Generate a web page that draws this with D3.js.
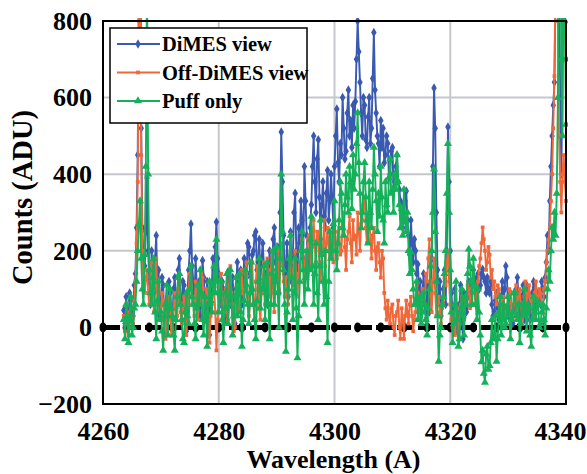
<!DOCTYPE html>
<html>
<head>
<meta charset="utf-8">
<script src="https://cdn.jsdelivr.net/npm/d3@7"></script>
<style>
  body { margin: 0; background: #fff; }
  svg { display: block; }
  text { font-family: "Liberation Serif", "Times New Roman", serif; font-weight: bold; }
</style>
</head>
<body>
<svg id="chart" width="587" height="474"></svg>
<script>
// wavelength grid of the spectra (A)
var wlStart = 4263.6, wlStep = 0.2;

// DiMES view counts, 20 samples (4 A) per row
var dimes = [
  45, 10, 80, 50, 15, 90, 70, 20, 30, 110, 140, 260, 450, 900, 1400, 520, 260, 180, 160, 250,
  390, 200, 120, 60, 200, 140, 90, 180, 240, 100, 150, 30, 60, 130, 110, 20, -20, 70, 40, 120,
  90, 30, 20, 100, 130, 50, 60, 150, 180, 70, 40, 120, 110, 20, -10, 90, 150, 200, 270, 160,
  120, 60, 180, 110, 60, 120, 30, 90, 175, 130, 80, 20, 120, 50, -20, 60, 110, 180, 150, 210,
  275, 180, 140, 80, 60, 120, 100, 40, 20, 90, 145, 70, 60, 110, 130, 30, 10, 100, 170, 120,
  90, 150, 60, 120, 180, 100, 130, 220, 210, 140, 100, 190, 200, 240, 250, 150, 170, 230, 120, 180,
  220, 160, 140, 90, 60, 150, 200, 120, 110, 230, 260, 170, 150, 210, 90, 300, 510, 380, 240, 140,
  150, 220, 80, 160, 250, 120, 180, 300, 350, 200, 120, 260, 220, 330, 280, 180, 420, 330, 240, 150,
  180, 260, 320, 420, 500, 380, 300, 440, 490, 340, 230, 320, 380, 290, 260, 350, 410, 280, 330, 400,
  340, 260, 420, 500, 570, 430, 380, 480, 450, 600, 520, 440, 460, 560, 620, 500, 540, 470, 580, 520,
  590, 700, 800, 720, 640, 560, 500, 600, 580, 490, 470, 550, 600, 480, 520, 650, 770, 620, 560, 500,
  480, 420, 540, 470, 520, 430, 450, 500, 480, 390, 400, 460, 470, 360, 380, 420, 450, 380, 360, 330,
  320, 260, 280, 330, 356, 280, 240, 190, 280, 220, 170, 230, 200, 140, 165, 100, 120, 60, 90, 140,
  60, 20, 110, 70, 40, 100, 180, 420, 625, 520, 300, 150, 80, 120, 30, 60, 100, 150, 60, 200,
  523, 380, 200, 90, 40, 0, 100, 60, -10, 30, 60, 110, 20, -30, 90, 50, 40, 80, 120, 90,
  60, 110, 150, 120, 90, 130, 140, 100, 110, 140, 152, 130, 120, 90, 130, 100, 90, 120, 60, 30,
  40, 70, 90, 50, 20, 60, 80, 120, 50, 100, 160, 130, 30, 60, 90, 40, 10, 50, 60, 100,
  130, 80, 30, 60, 80, 110, 20, 70, 110, 90, 60, 20, 40, 90, 120, 100, 50, 80, 90, 70,
  60, 120, 100, 80, 130, 170, 240, 200, 330, 420, 500, 580, 640, 900, 1300, 1100, 900, 600, 400, 700,
  1000, 850, 700
];

// Off-DiMES view counts
var offDimes = [
  30, -10, 60, 20, -20, 40, 50, 0, 10, 70, 120, 220, 380, 800, 1300, 450, 200, 110, 90, 130,
  150, 90, 60, 120, 170, 80, 40, 130, 180, 60, 100, 40, 20, 90, 70, 10, -30, 40, 20, 80,
  60, -20, 0, 50, 90, 20, 30, 100, 120, 40, 10, 60, 80, 10, -20, 50, 100, 140, 160, 60,
  80, 30, 120, 70, 20, 90, 60, 140, 130, 50, 40, 100, 90, 20, -40, 30, 60, 110, 100, 40,
  -60, 20, 80, 120, 140, 60, 30, 90, 100, 40, 20, 110, 160, 90, 60, -10, 0, 70, 110, 50,
  40, 100, 150, 90, 70, 140, 170, 80, 30, 60, 140, 170, 60, 20, 120, 160, 100, 50, 20, 90,
  120, 170, 60, 110, 180, 130, 80, 150, 200, 90, 40, 120, 150, 200, 100, 160, 220, 170, 120, 80,
  130, 90, 60, 140, 190, 150, 110, 170, 200, 130, 80, 140, 160, 210, 230, 170, 120, 200, 180, 230,
  240, 190, 150, 230, 280, 210, 170, 250, 240, 160, 120, 170, 200, 280, 160, 220, 260, 200, 180, 240,
  230, 170, 280, 220, 180, 250, 260, 190, 200, 270, 300, 210, 150, 230, 250, 290, 220, 170, 280, 230,
  240, 190, 300, 250, 200, 270, 280, 320, 340, 260, 220, 290, 300, 230, 180, 240, 260, 200, 150, 210,
  220, 170, 130, 200, 180, 90, 50, 20, 70, 30, 10, 50, 60, 0, -20, 30, 40, 70, 0, -30,
  50, 20, -30, 30, 70, 40, 10, 60, 80, 30, -10, 20, 40, 110, 90, 50, 20, 70, 100, 60,
  60, 140, 120, 180, 230, 100, 40, 120, 180, 90, 30, 60, 80, 40, 10, 50, 60, 130, 110, 170,
  200, 120, 60, 20, 0, 40, -20, 30, 50, -10, 10, 60, 80, 40, 20, 70, 60, 110, 100, 50,
  80, 120, 140, 90, 60, 100, 120, 160, 180, 220, 261, 230, 200, 150, 170, 210, 190, 130, 150, 100,
  120, 80, 60, 110, 100, 50, 30, 70, 80, 40, 10, 50, 60, 100, 90, 40, 20, 60, 70, 110,
  50, 80, 100, 60, 20, 50, 80, 120, 40, 90, 110, 80, 70, 40, 30, 90, 120, 80, 60, 100,
  90, 60, 40, 100, 120, 170, 200, 230, 260, 330, 400, 520, 656, 950, 1400, 800, 500, 380, 300, 400,
  450, 380, 330
];

// Puff only counts
var puff = [
  20, -30, 60, 30, -40, 20, 80, -20, 0, 50, 60, 120, 200, 270, 330, 180, 100, 60, 190, 420,
  900, 400, 150, 90, 60, 130, 180, 40, -30, 70, 120, 20, 40, -10, -60, 30, 60, 110, -20, 50,
  100, 50, 30, -20, -60, 20, 80, 130, 140, 60, 20, -30, -40, 40, 90, 30, 10, 100, 160, 80,
  60, 10, -30, 50, 110, 60, 150, 90, 20, -20, 80, 30, -50, 60, 120, 70, 40, 110, 160, 90,
  230, 120, 40, 90, 120, 20, -40, 50, 90, 140, 10, 60, 150, 80, -20, 30, 80, 130, 30, 100,
  140, 40, -50, 20, 70, 150, 110, 60, 10, 90, 170, 100, 60, 20, -30, 70, 120, 180, 50, 100,
  100, 160, 20, 90, 170, 60, -30, 60, 140, 200, 60, 120, 210, 90, 0, 180, 400, 250, 150, 60,
  -63, 40, 100, 180, 240, 130, 20, 90, 180, 50, -80, 30, 120, 200, 250, 150, 60, 130, 200, 100,
  150, 230, 290, 160, 60, 140, 220, 90, 20, 160, 280, 190, 120, 60, 200, 80, -40, 120, 250, 180,
  200, 270, 330, 200, 150, 220, 280, 380, 350, 260, 240, 320, 400, 340, 300, 420, 380, 310, 450, 360,
  400, 480, 560, 430, 350, 260, 300, 380, 430, 340, 280, 220, 380, 300, 260, 360, 470, 400, 330, 250,
  350, 290, 420, 340, 280, 220, 380, 320, 300, 390, 440, 350, 360, 300, 400, 360, 450, 380, 320, 260,
  310, 240, 360, 280, 250, 300, 200, 140, 196, 150, 100, 60, 60, 120, 20, 70, 80, 10, 40, 90,
  60, 20, -20, 50, 100, 160, 200, 300, 413, 250, 120, 30, -89, -20, 0, 60, 80, 140, 200, 350,
  480, 300, 150, 40, -40, 10, 60, 120, 20, -50, -30, 40, 100, 30, -20, 80, 60, 140, 204, 160,
  120, 60, 180, 110, 60, 20, 100, 40, -20, -90, -60, -120, -144, -70, -50, -110, -100, -40, 20, -30,
  -30, 30, -89, -30, 40, 80, -20, 20, 60, 0, 10, 50, 80, 30, -30, 20, 40, 90, 90, 30,
  20, 60, -40, 10, 60, 30, 100, 40, -10, 60, 50, -20, -50, 20, 80, 40, 20, 70, 60, 0,
  10, 40, 60, 20, -20, 50, 100, 150, 120, 200, 261, 230, 300, 240, 350, 600, 1000, 1200, 700, 500,
  1100, 800, 530
];

var seriesNames = ["DiMES view", "Off-DiMES view", "Puff only"];
var seriesColors = ["#3a59b0", "#f0683a", "#15b05a"];

// black zero reference line markers
var zeroMarks = [4260, 4264, 4268, 4272, 4276, 4280, 4284, 4288, 4292, 4296, 4300,
                 4304, 4308, 4312, 4316, 4320, 4324, 4328, 4332, 4336, 4340];

var xTicks = [4260, 4280, 4300, 4320, 4340];
var yTicks = [-200, 0, 200, 400, 600, 800];

var svg = d3.select("#chart");
var pLeft = 103, pRight = 566, pTop = 21, pBottom = 404;

var x = d3.scaleLinear().domain([4260, 4340]).range([pLeft, pRight]);
var y = d3.scaleLinear().domain([-200, 800]).range([pBottom, pTop]);

svg.append("clipPath").attr("id", "plotclip")
  .append("rect").attr("x", pLeft).attr("y", pTop - 3)
  .attr("width", pRight - pLeft + 2).attr("height", pBottom - pTop + 3);

// grid
svg.append("g").selectAll("line").data([4280, 4300, 4320]).join("line")
  .attr("x1", function(d) { return x(d); }).attr("x2", function(d) { return x(d); })
  .attr("y1", pTop).attr("y2", pBottom)
  .attr("stroke", "#c4c8cd").attr("stroke-width", 2);
svg.append("g").selectAll("line").data([200, 400, 600]).join("line")
  .attr("x1", pLeft).attr("x2", pRight)
  .attr("y1", function(d) { return y(d); }).attr("y2", function(d) { return y(d); })
  .attr("stroke", "#c4c8cd").attr("stroke-width", 2);

// zero line
var zg = svg.append("g");
zg.append("line")
  .attr("x1", x(4260)).attr("x2", x(4340))
  .attr("y1", y(0)).attr("y2", y(0))
  .attr("stroke", "#000").attr("stroke-width", 5)
  .attr("stroke-dasharray", "17,4");
zg.selectAll("ellipse").data(zeroMarks).join("ellipse")
  .attr("cx", function(d) { return x(d); }).attr("cy", y(0))
  .attr("rx", 3.5).attr("ry", 5).attr("fill", "#000");

// series
var allSeries = [dimes, offDimes, puff];
var symbols = [
  d3.symbol().type(d3.symbolDiamond).size(26),
  d3.symbol().type(d3.symbolSquare).size(14),
  d3.symbol().type(d3.symbolTriangle).size(28)
];

var line = d3.line()
  .x(function(d, i) { return x(wlStart + i * wlStep); })
  .y(function(d) { return y(d); });

var plot = svg.append("g").attr("clip-path", "url(#plotclip)");
allSeries.forEach(function(vals, s) {
  var g = plot.append("g");
  g.append("path").datum(vals)
    .attr("d", line)
    .attr("fill", "none")
    .attr("stroke", seriesColors[s])
    .attr("stroke-width", 1.9)
    .attr("stroke-linejoin", "round");
  g.selectAll("path.pt").data(vals).join("path")
    .attr("class", "pt")
    .attr("d", symbols[s])
    .attr("transform", function(d, i) {
      return "translate(" + x(wlStart + i * wlStep) + "," + y(d) + ")";
    })
    .attr("fill", seriesColors[s]);
});

// frame
svg.append("rect")
  .attr("x", pLeft).attr("y", pTop)
  .attr("width", pRight - pLeft).attr("height", pBottom - pTop)
  .attr("fill", "none").attr("stroke", "#000").attr("stroke-width", 2);

// axes
var xAxis = svg.append("g")
  .attr("transform", "translate(0," + pBottom + ")")
  .call(d3.axisBottom(x).tickValues(xTicks).tickFormat(d3.format("d")).tickSize(0).tickPadding(18));
var yAxis = svg.append("g")
  .attr("transform", "translate(" + pLeft + ",0)")
  .call(d3.axisLeft(y).tickValues(yTicks).tickFormat(d3.format("d")).tickSize(0).tickPadding(11));
[xAxis, yAxis].forEach(function(a) {
  a.select(".domain").remove();
  a.selectAll("text")
    .attr("font-family", "Liberation Serif, serif")
    .attr("font-size", 26).attr("font-weight", "bold")
    .attr("fill", "#000");
});
// last label sits against the page edge
xAxis.selectAll("text").filter(function(d) { return d === 4340; })
  .attr("text-anchor", "end").attr("x", 20);

svg.append("text")
  .attr("x", (pLeft + pRight) / 2 - 1).attr("y", 468)
  .attr("text-anchor", "middle")
  .attr("font-size", 26)
  .text("Wavelength (A)");

svg.append("text")
  .attr("transform", "translate(32," + ((pTop + pBottom) / 2 - 15) + ") rotate(-90)")
  .attr("text-anchor", "middle")
  .attr("font-size", 28.5)
  .text("Counts (ADU)");

// legend
var lg = svg.append("g").attr("transform", "translate(110,28)");
lg.append("rect").attr("width", 197).attr("height", 95)
  .attr("fill", "#fff").attr("stroke", "#000").attr("stroke-width", 1.5);
seriesNames.forEach(function(name, s) {
  var ly = 16 + s * 28.5;
  lg.append("line").attr("x1", 7).attr("x2", 50).attr("y1", ly).attr("y2", ly)
    .attr("stroke", seriesColors[s]).attr("stroke-width", 1.8);
  lg.append("path").attr("d", symbols[s])
    .attr("transform", "translate(28," + ly + ")")
    .attr("fill", seriesColors[s]);
  lg.append("text").attr("x", 52).attr("y", ly + 7)
    .attr("font-size", 20.5).text(name);
});
</script>
</body>
</html>
